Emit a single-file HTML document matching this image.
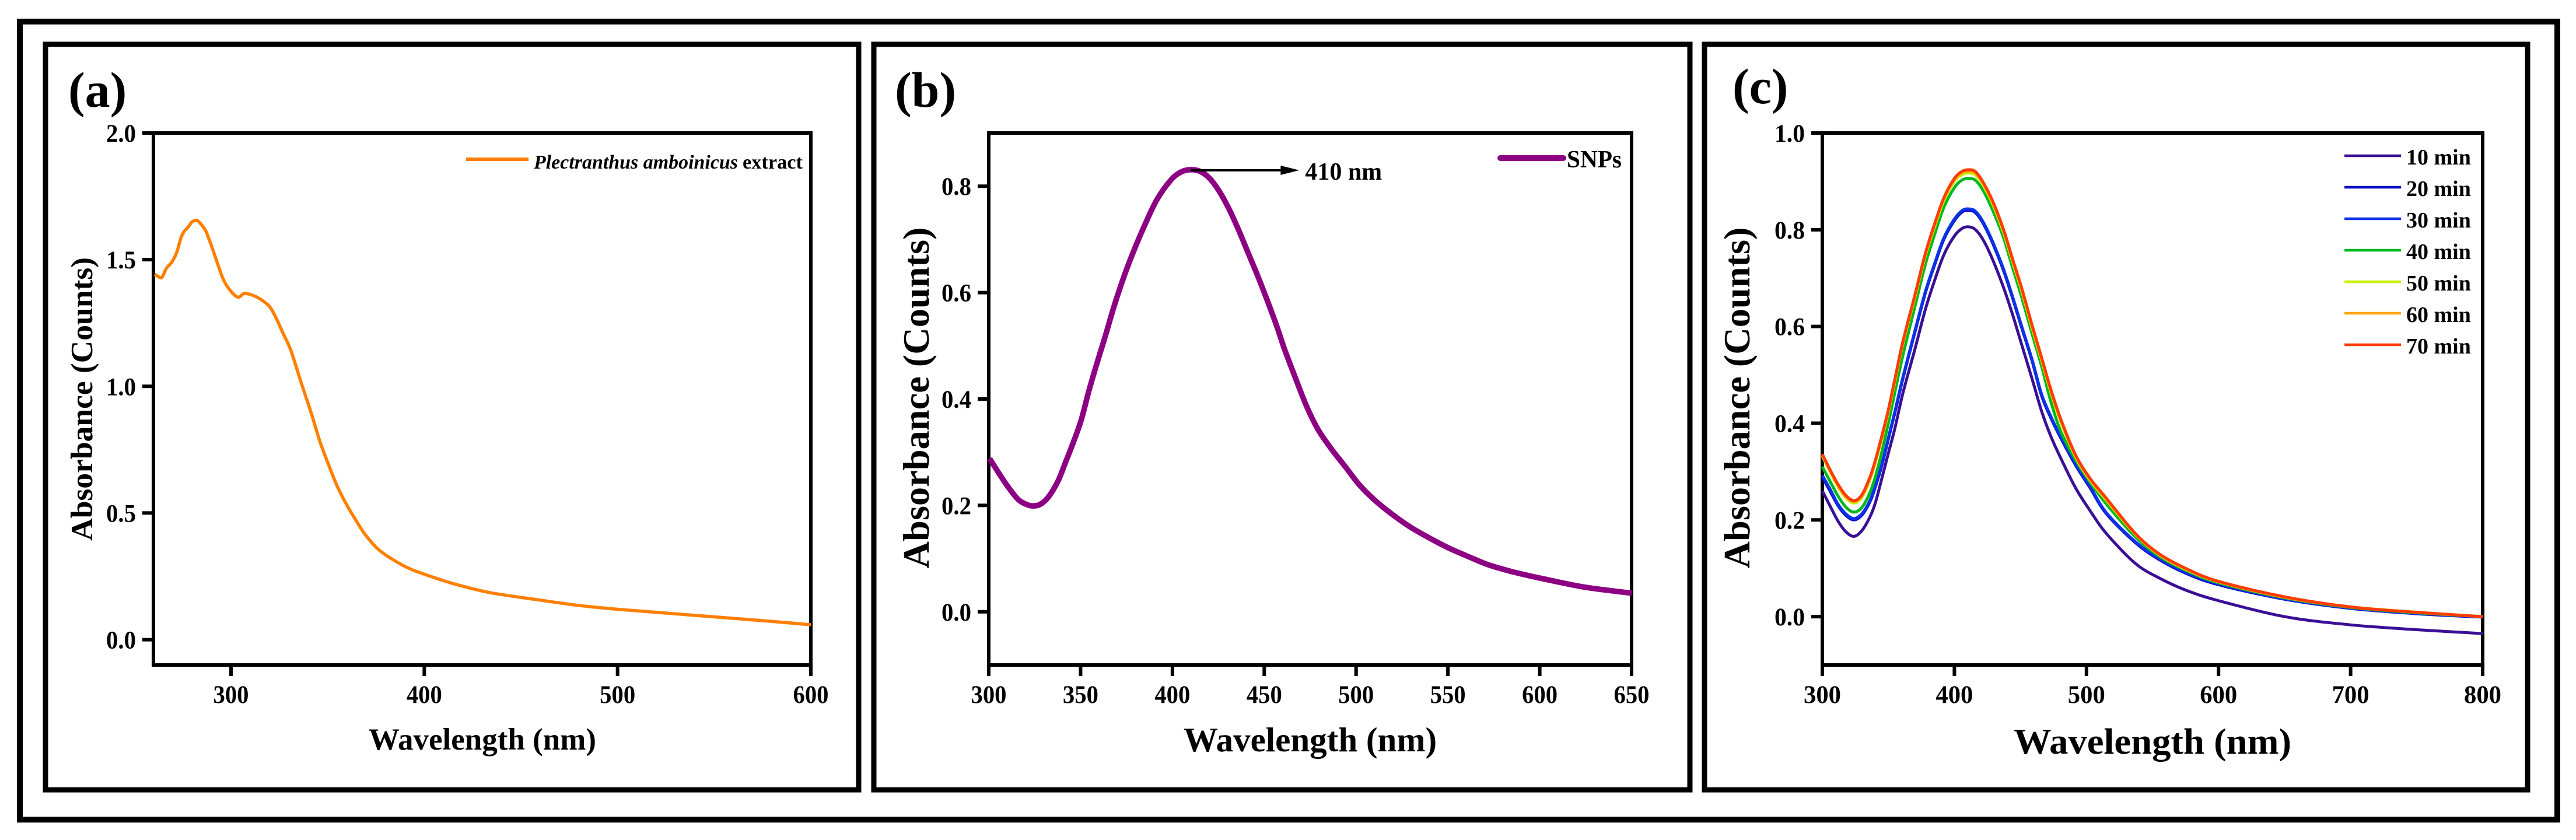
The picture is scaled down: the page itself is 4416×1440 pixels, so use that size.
<!DOCTYPE html>
<html lang="en">
<head>
<meta charset="utf-8">
<title>Absorbance spectra</title>
<style>
html,body{margin:0;padding:0;background:#fff;}
body{width:4416px;height:1440px;overflow:hidden;}
svg{display:block;}
text{font-family:"Liberation Serif",serif;font-weight:bold;fill:#000;}
</style>
</head>
<body>
<svg id="figure" width="4416" height="1440" viewBox="0 0 4416 1440" xmlns="http://www.w3.org/2000/svg">
  <rect x="0" y="0" width="4416" height="1440" fill="#fff"/>
  <rect x="34" y="37" width="4350" height="1368" fill="none" stroke="#000" stroke-width="10"/>
  <rect x="78" y="76" width="1394" height="1278" fill="none" stroke="#000" stroke-width="9"/>
  <rect x="1498" y="76" width="1399" height="1278" fill="none" stroke="#000" stroke-width="9"/>
  <rect x="2922" y="76" width="1411" height="1278" fill="none" stroke="#000" stroke-width="9"/>
  <text x="117" y="183" font-size="86">(a)</text>
  <text x="1534" y="183" font-size="86">(b)</text>
  <text x="2970" y="177" font-size="86">(c)</text>

  <text x="827" y="1285" font-size="53" text-anchor="middle">Wavelength (nm)</text>
  <text x="2246" y="1288" font-size="59" text-anchor="middle">Wavelength (nm)</text>
  <text x="3690" y="1292" font-size="62" text-anchor="middle" textLength="476" lengthAdjust="spacingAndGlyphs">Wavelength (nm)</text>

  <text transform="translate(158 684) rotate(-90)" font-size="53" text-anchor="middle" textLength="486" lengthAdjust="spacingAndGlyphs">Absorbance (Counts)</text>
  <text transform="translate(1592 682) rotate(-90)" font-size="63" text-anchor="middle" textLength="585" lengthAdjust="spacingAndGlyphs">Absorbance (Counts)</text>
  <text transform="translate(2999 682) rotate(-90)" font-size="63" text-anchor="middle" textLength="585" lengthAdjust="spacingAndGlyphs">Absorbance (Counts)</text>

  <line x1="799" y1="273" x2="906" y2="273" stroke="#FF8000" stroke-width="6"/>
  <text x="915" y="289" font-size="34" font-style="italic" textLength="350" lengthAdjust="spacingAndGlyphs">Plectranthus amboinicus</text>
  <text x="1273" y="289" font-size="34" textLength="103" lengthAdjust="spacingAndGlyphs">extract</text>

  <line x1="2572" y1="271" x2="2680" y2="271" stroke="#8C0082" stroke-width="10" stroke-linecap="round"/>
  <text x="2686" y="287" font-size="42" textLength="94" lengthAdjust="spacingAndGlyphs">SNPs</text>

  <g id="plot-a"></g>
  <g id="plot-b"></g>
  <g id="plot-c"></g>
</svg>

<script>
/* Panel (a) data */
const aWavelengths = [260.5,262,264.2,266.5,269.5,272,274,275.6,277.6,280,282.6,285.1,287.1,290.1,293.2,296.2,300.2,303.7,306.7,310.3,314.8,319.8,323.3,327,330.9,336.4,341.4,346,350.5,355,359.6,365.6,369.6,375.7,382.7,392.8,407.9,417.9,433,448,458.2,480,500,525,550,575,600];
const aAbsorbance = [1.442,1.435,1.430,1.465,1.492,1.531,1.584,1.610,1.627,1.650,1.654,1.634,1.611,1.550,1.481,1.419,1.373,1.352,1.366,1.362,1.346,1.316,1.270,1.208,1.143,1.012,0.897,0.782,0.690,0.605,0.536,0.459,0.413,0.360,0.321,0.279,0.238,0.215,0.187,0.169,0.158,0.135,0.120,0.105,0.090,0.075,0.059];
const aXTicks = [300,400,500,600];
const aYTicks = [0,0.5,1,1.5,2];

/* Panel (b) data */
const bWavelengths = [300.5,305.8,311.1,316.4,321.2,324.3,328,332.3,337.6,341.8,346,350.3,354.5,358.8,363,368.3,373.6,378.9,385.2,391.6,399,404.3,409.6,414.9,420.2,425.4,430.7,436,441.3,446.6,451.9,457.2,460.9,466.7,473.1,479.4,486.8,494.3,501.7,510.1,518.6,529.2,539.8,550.4,561,571.5,582.1,592.7,603.3,625,650];
const bAbsorbance = [0.288,0.259,0.232,0.210,0.201,0.199,0.202,0.215,0.245,0.281,0.318,0.360,0.415,0.466,0.513,0.575,0.630,0.678,0.729,0.775,0.811,0.826,0.831,0.828,0.815,0.791,0.758,0.718,0.674,0.630,0.583,0.533,0.495,0.442,0.386,0.342,0.305,0.272,0.239,0.210,0.186,0.160,0.139,0.120,0.104,0.089,0.078,0.069,0.061,0.046,0.035];
const bXTicks = [300,350,400,450,500,550,600,650];
const bYTicks = [0,0.2,0.4,0.6,0.8];
const bPeakWavelength = 410;
const bPeakAbsorbance = 0.83;

/* Panel (c) data */
const cWavelengths = [300,306,312,318,324,330,336,340,345,350,355,361,370,378,385,392,400,406,411,416,422,429,437,444,451,459,466,473,481,492,503,515,537,555,575,600,650,700,750,800];
const c10min = [0.26,0.228,0.197,0.175,0.166,0.178,0.206,0.234,0.285,0.338,0.39,0.462,0.552,0.635,0.695,0.748,0.787,0.803,0.806,0.80,0.778,0.738,0.682,0.625,0.562,0.49,0.425,0.373,0.325,0.265,0.218,0.172,0.11,0.08,0.055,0.033,0,-0.017,-0.027,-0.035];
const c20min = [0.288,0.259,0.229,0.209,0.2,0.21,0.237,0.267,0.312,0.367,0.422,0.492,0.587,0.669,0.727,0.78,0.819,0.837,0.84,0.835,0.812,0.772,0.717,0.659,0.597,0.527,0.457,0.411,0.367,0.312,0.265,0.213,0.153,0.118,0.09,0.066,0.036,0.017,0.006,-0.001];
const c30min = [0.292,0.263,0.232,0.212,0.203,0.213,0.24,0.27,0.315,0.37,0.425,0.495,0.59,0.672,0.73,0.783,0.822,0.84,0.843,0.838,0.815,0.775,0.72,0.662,0.60,0.53,0.46,0.414,0.37,0.315,0.268,0.215,0.155,0.12,0.092,0.068,0.037,0.018,0.007,0];
const c40min = [0.31,0.279,0.249,0.226,0.216,0.226,0.256,0.288,0.34,0.40,0.465,0.54,0.64,0.728,0.79,0.846,0.887,0.903,0.906,0.902,0.88,0.84,0.785,0.722,0.66,0.583,0.518,0.445,0.38,0.323,0.277,0.233,0.165,0.125,0.096,0.07,0.039,0.019,0.008,0];
const c50min = [0.332,0.299,0.268,0.245,0.235,0.247,0.283,0.317,0.368,0.423,0.487,0.564,0.659,0.746,0.806,0.86,0.9,0.914,0.917,0.913,0.891,0.853,0.796,0.734,0.673,0.595,0.53,0.464,0.4,0.329,0.281,0.241,0.17,0.128,0.098,0.072,0.04,0.02,0.009,0];
const c60min = [0.334,0.301,0.271,0.248,0.238,0.25,0.286,0.32,0.371,0.426,0.49,0.567,0.662,0.749,0.81,0.864,0.904,0.918,0.921,0.917,0.895,0.857,0.8,0.738,0.677,0.599,0.534,0.468,0.403,0.331,0.283,0.243,0.171,0.129,0.099,0.072,0.04,0.02,0.009,0];
const c70min = [0.336,0.303,0.273,0.25,0.24,0.252,0.288,0.322,0.373,0.428,0.492,0.569,0.664,0.751,0.812,0.866,0.906,0.921,0.924,0.92,0.897,0.859,0.802,0.74,0.679,0.601,0.536,0.47,0.405,0.333,0.285,0.245,0.172,0.13,0.10,0.073,0.041,0.02,0.009,0];
const cXTicks = [300,400,500,600,700,800];
const cYTicks = [0,0.2,0.4,0.6,0.8,1];
const cLegendLabels = ['10 min','20 min','30 min','40 min','50 min','60 min','70 min'];

const SVG_NS = 'http://www.w3.org/2000/svg';

function linearScale(dMin, dMax, rMin, rMax) {
  return function (v) { return rMin + (v - dMin) * (rMax - rMin) / (dMax - dMin); };
}

function smoothPath(xs, ys, sx, sy) {
  const px = xs.map(sx);
  const py = ys.map(sy);
  let d = 'M' + px[0].toFixed(2) + ' ' + py[0].toFixed(2);
  for (let i = 0; i < px.length - 1; i++) {
    const i0 = Math.max(i - 1, 0);
    const i3 = Math.min(i + 2, px.length - 1);
    const c1x = px[i] + (px[i + 1] - px[i0]) / 6;
    const c1y = py[i] + (py[i + 1] - py[i0]) / 6;
    const c2x = px[i + 1] - (px[i3] - px[i]) / 6;
    const c2y = py[i + 1] - (py[i3] - py[i]) / 6;
    d += 'C' + c1x.toFixed(2) + ' ' + c1y.toFixed(2) + ' ' + c2x.toFixed(2) + ' ' + c2y.toFixed(2) + ' ' + px[i + 1].toFixed(2) + ' ' + py[i + 1].toFixed(2);
  }
  return d;
}

function drawAxes(group, prefix, box, sx, sy, xTicks, yTicks, xLabelWidth, yLabelWidth) {
  const frame = document.createElementNS(SVG_NS, 'rect');
  
  
  frame.setAttribute('x', box.left);
  frame.setAttribute('y', box.top);
  frame.setAttribute('width', box.right - box.left);
  frame.setAttribute('height', box.bottom - box.top);
  frame.setAttribute('fill', 'none');
  frame.setAttribute('stroke', '#000');
  frame.setAttribute('stroke-width', '6');
  group.appendChild(frame);

  xTicks.forEach(function (t) {
    const tick = document.createElementNS(SVG_NS, 'line');
    
    
    tick.setAttribute('x1', sx(t));
    tick.setAttribute('x2', sx(t));
    tick.setAttribute('y1', box.bottom);
    tick.setAttribute('y2', box.bottom + 19);
    tick.setAttribute('stroke', '#000');
    tick.setAttribute('stroke-width', '6');
    group.appendChild(tick);

    const label = document.createElementNS(SVG_NS, 'text');
    
    
    label.setAttribute('x', sx(t));
    label.setAttribute('y', box.bottom + 65);
    label.setAttribute('font-size', '43');
    label.setAttribute('text-anchor', 'middle');
    label.setAttribute('textLength', xLabelWidth);
    label.setAttribute('lengthAdjust', 'spacingAndGlyphs');
    label.textContent = String(t);
    group.appendChild(label);
  });

  yTicks.forEach(function (t) {
    const tick = document.createElementNS(SVG_NS, 'line');
    
    
    tick.setAttribute('x1', box.left - 19);
    tick.setAttribute('x2', box.left);
    tick.setAttribute('y1', sy(t));
    tick.setAttribute('y2', sy(t));
    tick.setAttribute('stroke', '#000');
    tick.setAttribute('stroke-width', '6');
    group.appendChild(tick);

    const label = document.createElementNS(SVG_NS, 'text');
    
    
    label.setAttribute('x', box.left - 30);
    label.setAttribute('y', sy(t) + 15);
    label.setAttribute('font-size', '43');
    label.setAttribute('text-anchor', 'end');
    label.setAttribute('textLength', yLabelWidth);
    label.setAttribute('lengthAdjust', 'spacingAndGlyphs');
    label.textContent = t.toFixed(1);
    group.appendChild(label);
  });
}

function drawSeries(group, name, xs, ys, sx, sy, color, width) {
  const path = document.createElementNS(SVG_NS, 'path');
  
  
  path.setAttribute('d', smoothPath(xs, ys, sx, sy));
  path.setAttribute('fill', 'none');
  path.setAttribute('stroke', color);
  path.setAttribute('stroke-width', width);
  path.setAttribute('stroke-linejoin', 'round');
  group.appendChild(path);
}

/* Panel (a) */
const aBox = {left: 263, right: 1390, top: 228, bottom: 1140};
const aX = linearScale(260, 600, aBox.left + 0.5, aBox.right);
const aY = linearScale(-0.1, 2, aBox.bottom, aBox.top);
const plotA = document.getElementById('plot-a');
drawAxes(plotA, 'panel-a', aBox, aX, aY, aXTicks, aYTicks, 61, 51);
drawSeries(plotA, 'panel-a-extract-curve', aWavelengths, aAbsorbance, aX, aY, '#FF8000', 5.5);

/* Panel (b) */
const bBox = {left: 1695, right: 2797, top: 228, bottom: 1140};
const bX = linearScale(300, 650, bBox.left, bBox.right);
const bY = linearScale(-0.1, 0.9, bBox.bottom, bBox.top);
const plotB = document.getElementById('plot-b');
drawAxes(plotB, 'panel-b', bBox, bX, bY, bXTicks, bYTicks, 61, 51);
drawSeries(plotB, 'panel-b-snps-curve', bWavelengths, bAbsorbance, bX, bY, '#8C0082', 9.5);

const peakLine = document.createElementNS(SVG_NS, 'line');


peakLine.setAttribute('x1', bX(bPeakWavelength));
peakLine.setAttribute('x2', bX(bPeakWavelength) + 160);
peakLine.setAttribute('y1', bY(bPeakAbsorbance));
peakLine.setAttribute('y2', bY(bPeakAbsorbance));
peakLine.setAttribute('stroke', '#000');
peakLine.setAttribute('stroke-width', '4');
plotB.appendChild(peakLine);

const peakHead = document.createElementNS(SVG_NS, 'polygon');


const headX = bX(bPeakWavelength) + 186;
const headY = bY(bPeakAbsorbance);
peakHead.setAttribute('points', headX + ',' + headY + ' ' + (headX - 32) + ',' + (headY - 8) + ' ' + (headX - 32) + ',' + (headY + 8));
peakHead.setAttribute('fill', '#000');
plotB.appendChild(peakHead);

const peakLabel = document.createElementNS(SVG_NS, 'text');


peakLabel.setAttribute('x', bX(bPeakWavelength) + 196);
peakLabel.setAttribute('y', bY(bPeakAbsorbance) + 16);
peakLabel.setAttribute('font-size', '42');
peakLabel.textContent = bPeakWavelength + ' nm';
plotB.appendChild(peakLabel);

/* Panel (c) */
const cBox = {left: 3124, right: 4256, top: 228, bottom: 1140};
const cX = linearScale(300, 800, cBox.left, cBox.right);
const cY = linearScale(-0.1, 1, cBox.bottom, cBox.top);
const plotC = document.getElementById('plot-c');
drawAxes(plotC, 'panel-c', cBox, cX, cY, cXTicks, cYTicks, 64, 52);

const cSeries = [c10min, c20min, c30min, c40min, c50min, c60min, c70min];
const cColors = ['#3A0F96', '#0A0AC8', '#0A32E6', '#00B81E', '#C8F000', '#FFA50A', '#FF3C00'];
cSeries.forEach(function (values, i) {
  drawSeries(plotC, 'panel-c-curve-' + cLegendLabels[i].replace(' ', '-'), cWavelengths, values, cX, cY, cColors[i], 5);

  const legendLine = document.createElementNS(SVG_NS, 'line');
  
  
  legendLine.setAttribute('x1', 4019);
  legendLine.setAttribute('x2', 4116);
  legendLine.setAttribute('y1', 267 + i * 54);
  legendLine.setAttribute('y2', 267 + i * 54);
  legendLine.setAttribute('stroke', cColors[i]);
  legendLine.setAttribute('stroke-width', '4.5');
  plotC.appendChild(legendLine);

  const legendText = document.createElementNS(SVG_NS, 'text');
  
  
  legendText.setAttribute('x', 4125);
  legendText.setAttribute('y', 282 + i * 54);
  legendText.setAttribute('font-size', '38');
  legendText.textContent = cLegendLabels[i];
  plotC.appendChild(legendText);
});
</script>
</body>
</html>
